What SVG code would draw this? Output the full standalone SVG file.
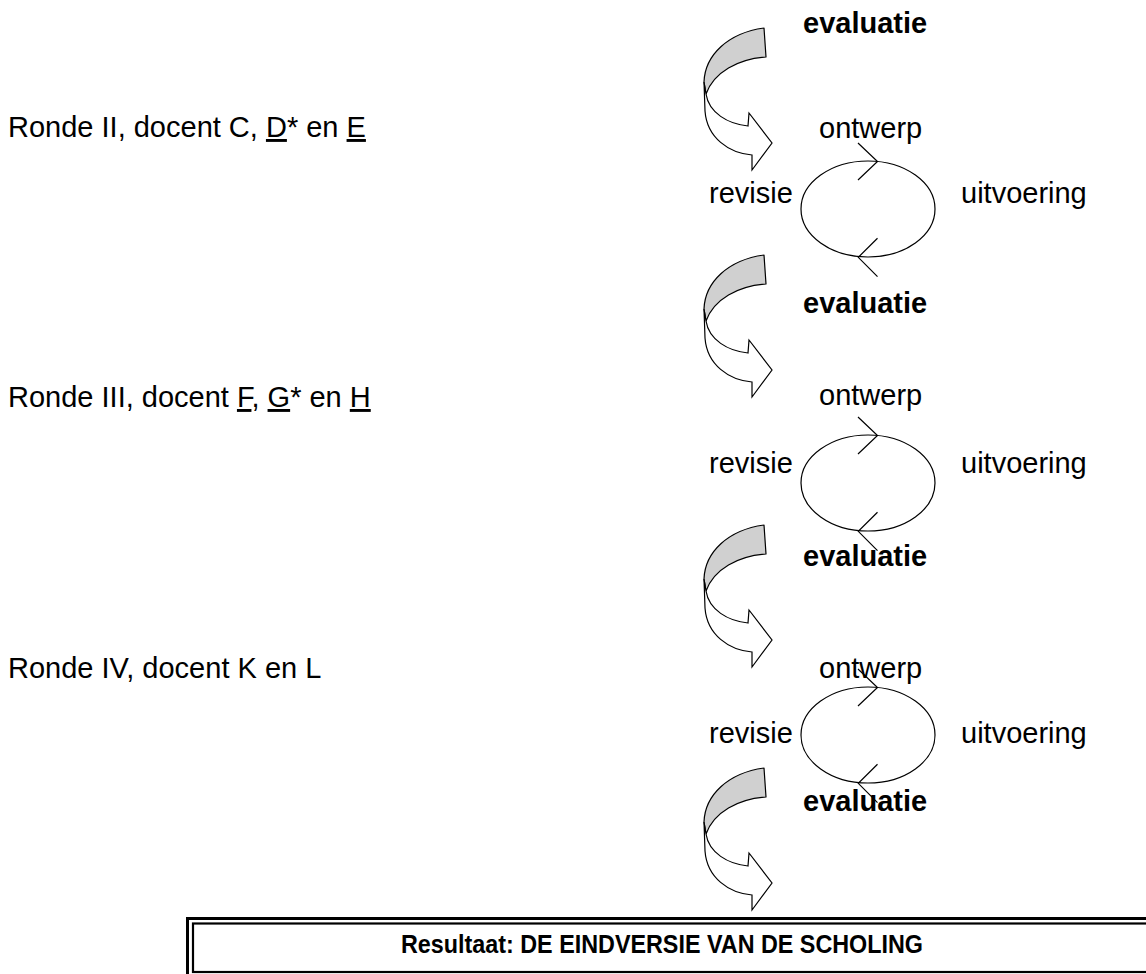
<svg xmlns="http://www.w3.org/2000/svg" xmlns:xlink="http://www.w3.org/1999/xlink" width="1146" height="974" viewBox="0 0 1146 974">
<style>
  text { font-family: "Liberation Sans", Arial, sans-serif; font-size: 29px; fill: #000; }
  .b { font-weight: bold; }
  .u { text-decoration: underline; }
  .res { font-size: 26px; }
  .ln { fill: none; stroke: #000; stroke-width: 1.2; }
  .back { fill: #d0d0d0; stroke: #000; stroke-width: 1.2; stroke-linejoin: round; }
  .front { fill: #fff; stroke: #000; stroke-width: 1.2; stroke-linejoin: miter; }
</style>
<defs>
  <g id="curvedArrow">
    <path class="back" d="M764,28 C728,33 705,55 704,82 L706,94 C714,72 738,59 766,57 Z"/>
    <path class="front" d="M704,82 L705,111 C707,138 729,153 752,155 L752,170 L772,143 L749,113 L748,126 C728,124 709,113 706,94 Z"/>
  </g>
  <g id="cycle">
    <ellipse class="ln" cx="0" cy="0" rx="67" ry="48"/>
    <polyline class="ln" points="-10,-66 9.5,-47.5 -10,-29"/>
    <polyline class="ln" points="9.5,29.3 -9.7,48.3 9.5,67.7"/>
  </g>
</defs>
<rect width="1146" height="974" fill="#fff"/>

<g id="labels-left">
  <text x="8" y="137">Ronde II, docent C, <tspan class="u">D</tspan>* en <tspan class="u">E</tspan></text>
  <text x="8" y="407">Ronde III, docent <tspan class="u">F</tspan>, <tspan class="u">G</tspan>* en <tspan class="u">H</tspan></text>
  <text x="8" y="678">Ronde IV, docent K en L</text>
</g>

<g id="connectors">
  <use xlink:href="#curvedArrow"/>
  <use xlink:href="#curvedArrow" transform="translate(0,227)"/>
  <use xlink:href="#curvedArrow" transform="translate(0,497)"/>
  <use xlink:href="#curvedArrow" transform="translate(0,740)"/>
</g>

<g id="cycle1">
  <text class="b" x="803" y="33">evaluatie</text>
  <text x="819" y="138">ontwerp</text>
  <text x="709" y="203">revisie</text>
  <text x="961" y="203">uitvoering</text>
  <use xlink:href="#cycle" transform="translate(868,209)"/>
</g>

<g id="cycle2">
  <text class="b" x="803" y="313">evaluatie</text>
  <text x="819" y="405">ontwerp</text>
  <text x="709" y="473">revisie</text>
  <text x="961" y="473">uitvoering</text>
  <use xlink:href="#cycle" transform="translate(868,483)"/>
</g>

<g id="cycle3">
  <text class="b" x="803" y="566">evaluatie</text>
  <text x="819" y="678">ontwerp</text>
  <text x="709" y="743">revisie</text>
  <text x="961" y="743">uitvoering</text>
  <use xlink:href="#cycle" transform="translate(868,735)"/>
</g>

<g id="evaluatie4">
  <text class="b" x="803" y="811">evaluatie</text>
</g>

<g id="result">
  <rect x="187.5" y="918.5" width="980" height="70" fill="#fff" stroke="#000" stroke-width="3"/>
  <rect x="193" y="923.5" width="970" height="48.5" fill="none" stroke="#000" stroke-width="2.2"/>
  <text class="b res" x="662" y="953" text-anchor="middle" textLength="522" lengthAdjust="spacingAndGlyphs">Resultaat: DE EINDVERSIE VAN DE SCHOLING</text>
</g>
</svg>
